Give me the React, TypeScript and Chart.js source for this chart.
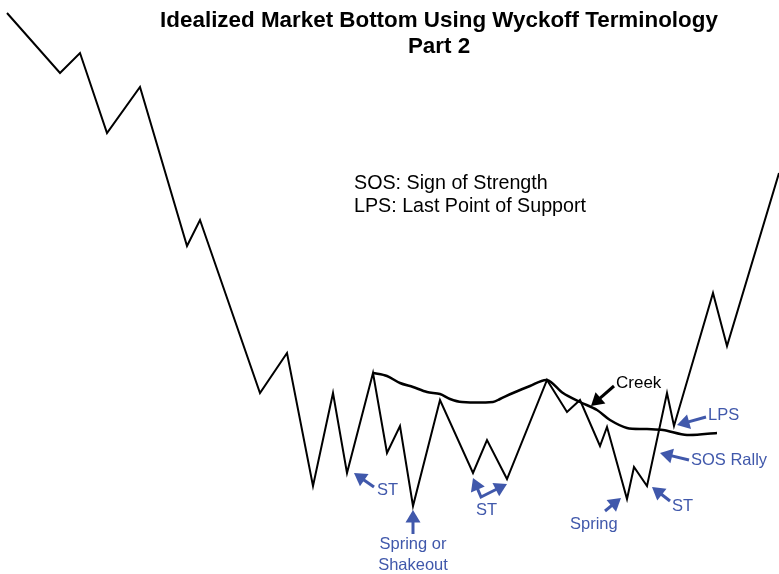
import React, { useEffect, useRef } from "react";
import { Chart, registerables } from "chart.js";

Chart.register(...registerables);

// Idealized price path (x = time position, y = price units)
const priceX = [7, 60, 80, 107, 140, 187, 200, 260, 287, 313, 333, 347, 373, 387, 400, 413, 440, 473, 487, 507, 547, 567, 580, 600, 607, 627, 634, 647, 667, 674, 713, 727, 779];
const priceY = [561, 501, 521, 441, 487, 328, 354, 181, 221, 88, 181, 101, 201, 121, 148, 68, 174, 101, 134, 95, 194, 162, 174, 128, 147, 75, 107, 88, 181, 148, 281, 228, 401];

// "Creek" resistance line
const creekX = [373, 387, 400, 413, 427, 440, 450, 462, 493, 500, 513, 530, 547, 563, 580, 597, 610, 627, 647, 663, 687, 717];
const creekY = [201, 198, 191, 187, 182, 180, 175, 172, 172, 175, 181, 188, 194, 181, 172, 164, 154, 146, 145, 144, 139, 141];

const titleLines = ["Idealized Market Bottom Using Wyckoff Terminology", "Part 2"];
const legendLines = ["SOS: Sign of Strength", "LPS: Last Point of Support"];

const BLUE = "#4058ab";
const FONT = "'Liberation Sans', Arial, Helvetica, sans-serif";

type Label = { text: string; x: number; y: number; align: CanvasTextAlign; color: string; font: string };
type Arrow = { pts: number[][]; color: string; heads: "end" | "both" };

const labels: Label[] = [
  { text: titleLines[0], x: 439, y: 547, align: "center", color: "#000", font: `bold 22.4px ${FONT}` },
  { text: titleLines[1], x: 439, y: 521, align: "center", color: "#000", font: `bold 22.4px ${FONT}` },
  { text: legendLines[0], x: 354, y: 385, align: "left", color: "#000", font: `19.7px ${FONT}` },
  { text: legendLines[1], x: 354, y: 362, align: "left", color: "#000", font: `19.7px ${FONT}` },
  { text: "Creek", x: 616, y: 186, align: "left", color: "#000", font: `17px ${FONT}` },
  { text: "ST", x: 377, y: 79, align: "left", color: BLUE, font: `16.5px ${FONT}` },
  { text: "Spring or", x: 413, y: 25, align: "center", color: BLUE, font: `16.5px ${FONT}` },
  { text: "Shakeout", x: 413, y: 4, align: "center", color: BLUE, font: `16.5px ${FONT}` },
  { text: "ST", x: 476, y: 59, align: "left", color: BLUE, font: `16.5px ${FONT}` },
  { text: "Spring", x: 570, y: 45, align: "left", color: BLUE, font: `16.5px ${FONT}` },
  { text: "ST", x: 672, y: 63, align: "left", color: BLUE, font: `16.5px ${FONT}` },
  { text: "SOS Rally", x: 691, y: 109, align: "left", color: BLUE, font: `16.5px ${FONT}` },
  { text: "LPS", x: 708, y: 154, align: "left", color: BLUE, font: `16.5px ${FONT}` },
];

const arrows: Arrow[] = [
  { pts: [[374, 87], [354, 101]], color: BLUE, heads: "end" },
  { pts: [[413, 40], [413, 64]], color: BLUE, heads: "end" },
  { pts: [[473, 96], [481, 77], [507, 90]], color: BLUE, heads: "both" },
  { pts: [[605, 63], [621, 76]], color: BLUE, heads: "end" },
  { pts: [[670, 73], [652, 87]], color: BLUE, heads: "end" },
  { pts: [[689, 114], [660, 121]], color: BLUE, heads: "end" },
  { pts: [[706, 157], [677, 149]], color: BLUE, heads: "end" },
  { pts: [[614, 188], [591, 168]], color: "#000", heads: "end" },
];

function drawHead(ctx: CanvasRenderingContext2D, fx: number, fy: number, tx: number, ty: number, color: string) {
  const ang = Math.atan2(ty - fy, tx - fx);
  const len = 12.5;
  const half = 7.5;
  const bx = tx - len * Math.cos(ang);
  const by = ty - len * Math.sin(ang);
  ctx.beginPath();
  ctx.moveTo(tx, ty);
  ctx.lineTo(bx + half * Math.sin(ang), by - half * Math.cos(ang));
  ctx.lineTo(bx - half * Math.sin(ang), by + half * Math.cos(ang));
  ctx.closePath();
  ctx.fillStyle = color;
  ctx.fill();
}

const annotationPlugin = {
  id: "wyckoffAnnotations",
  afterDatasetsDraw(chart: any) {
    const ctx: CanvasRenderingContext2D = chart.ctx;
    const xs = chart.scales.x;
    const ys = chart.scales.y;
    ctx.save();
    for (const a of arrows) {
      const p = a.pts.map(([x, y]) => [xs.getPixelForValue(x), ys.getPixelForValue(y)]);
      ctx.strokeStyle = a.color;
      ctx.lineWidth = 3;
      ctx.lineJoin = "miter";
      ctx.beginPath();
      const n = p.length;
      const shorten = (a1: number[], b1: number[]) => {
        const ang = Math.atan2(b1[1] - a1[1], b1[0] - a1[0]);
        return [b1[0] - 9 * Math.cos(ang), b1[1] - 9 * Math.sin(ang)];
      };
      const start = a.heads === "both" ? shorten(p[1], p[0]) : p[0];
      const end = shorten(p[n - 2], p[n - 1]);
      ctx.moveTo(start[0], start[1]);
      for (let i = 1; i < n - 1; i++) ctx.lineTo(p[i][0], p[i][1]);
      ctx.lineTo(end[0], end[1]);
      ctx.stroke();
      drawHead(ctx, p[n - 2][0], p[n - 2][1], p[n - 1][0], p[n - 1][1], a.color);
      if (a.heads === "both") drawHead(ctx, p[1][0], p[1][1], p[0][0], p[0][1], a.color);
    }
    ctx.textBaseline = "alphabetic";
    for (const l of labels) {
      ctx.font = l.font;
      ctx.fillStyle = l.color;
      ctx.textAlign = l.align;
      ctx.fillText(l.text, xs.getPixelForValue(l.x), ys.getPixelForValue(l.y));
    }
    ctx.restore();
  },
};

export default function App() {
  const ref = useRef<HTMLCanvasElement | null>(null);
  useEffect(() => {
    if (!ref.current) return;
    const chart = new Chart(ref.current, {
      type: "line",
      data: {
        datasets: [
          {
            label: "Price",
            data: priceX.map((x, i) => ({ x, y: priceY[i] })),
            borderColor: "#000",
            borderWidth: 2,
            pointRadius: 0,
            tension: 0,
            fill: false,
          },
          {
            label: "Creek",
            data: creekX.map((x, i) => ({ x, y: creekY[i] })),
            borderColor: "#000",
            borderWidth: 2.5,
            pointRadius: 0,
            tension: 0.3,
            fill: false,
          },
        ],
      },
      options: {
        responsive: false,
        animation: false,
        layout: { padding: 0 },
        plugins: { legend: { display: false }, tooltip: { enabled: false }, title: { display: false } },
        scales: {
          x: { type: "linear", min: 0, max: 779, display: false },
          y: { type: "linear", min: 0, max: 574, display: false },
        },
      },
      plugins: [annotationPlugin],
    });
    return () => chart.destroy();
  }, []);
  return (
    <div style={{ position: "absolute", left: 0, top: 0, width: 779, height: 574, background: "#fff" }}>
      <canvas ref={ref} width={779} height={574} style={{ display: "block" }} />
    </div>
  );
}
